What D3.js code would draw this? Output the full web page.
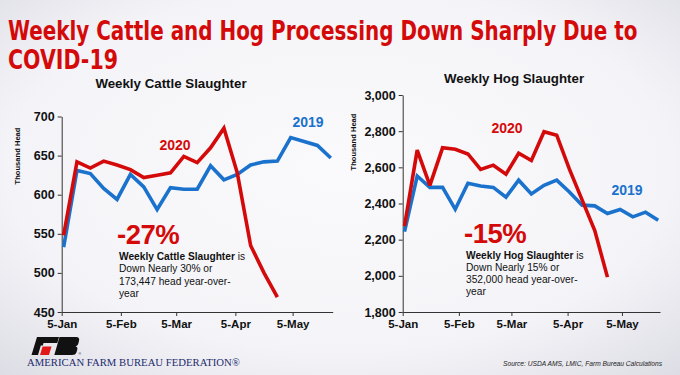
<!DOCTYPE html>
<html><head><meta charset="utf-8">
<script src="https://cdn.jsdelivr.net/npm/d3@7"></script>
<style>html,body{margin:0;padding:0;background:#f3f3f7;} svg{display:block;}</style>
</head><body>
<svg id="c" width="680" height="375"></svg>
<script>
// ---- data ----
const weeks = ["2020-01-06","2020-01-13","2020-01-20","2020-01-27","2020-02-03","2020-02-10","2020-02-17",
  "2020-02-24","2020-03-02","2020-03-09","2020-03-16","2020-03-23","2020-03-30","2020-04-06","2020-04-13",
  "2020-04-20","2020-04-27","2020-05-04","2020-05-11","2020-05-18","2020-05-25"];
const cattle2020 = [548, 642, 634, 643, 638, 632, 622, 625, 628, 649, 641, 660, 685, 628, 535, 500, 469];
const cattle2019 = [533, 631, 627, 608, 594, 626, 610, 581, 609, 607, 607, 637, 619, 626, 638, 642, 643, 673, 668, 663, 647];
const hog2020 = [2275, 2695, 2500, 2708, 2700, 2674, 2588, 2612, 2562, 2678, 2638, 2797, 2778, 2590, 2420, 2250, 1993];
const hog2019 = [2245, 2552, 2489, 2489, 2368, 2512, 2497, 2489, 2435, 2529, 2453, 2501, 2529, 2464, 2391, 2387, 2345, 2367, 2326, 2352, 2307];
const xTickDates = ["2020-01-05","2020-02-05","2020-03-05","2020-04-05","2020-05-05"];
const xTickLabels = ["5-Jan","5-Feb","5-Mar","5-Apr","5-May"];
const cattleTicks = [450, 500, 550, 600, 650, 700];
const hogTicks = [1800, 2000, 2200, 2400, 2600, 2800, 3000];
const xDomain = ["2020-01-05","2020-05-26"];

const RED = "#d40a0a", BLUE = "#1a72cc";
const parse = d3.utcParse("%Y-%m-%d");
const svg = d3.select("#c");
const FONT = "'Liberation Sans', Arial, Helvetica, sans-serif";

// background
const defs = svg.append("defs");
const g = defs.append("radialGradient").attr("id","bg").attr("cx","50%").attr("cy","45%").attr("r","75%");
g.append("stop").attr("offset","0%").attr("stop-color","#fafafc");
g.append("stop").attr("offset","65%").attr("stop-color","#f4f4f8");
g.append("stop").attr("offset","100%").attr("stop-color","#dcdce4");
svg.append("rect").attr("width",680).attr("height",375).attr("fill","url(#bg)");

// title (scaled horizontally to fit the reference width)
const tfont = "'Liberation Sans Narrow','DejaVu Sans Condensed','Liberation Sans',Arial,sans-serif";
function fitText(txt, x, y, width){
  const t = svg.append("text").attr("font-family",tfont).attr("font-weight","bold")
    .attr("font-size",24.5).attr("fill",RED).text(txt);
  const w = t.node().getComputedTextLength();
  t.attr("transform",`translate(${x},${y}) scale(${width / w},1.06)`);
}
fitText("Weekly Cattle and Hog Processing Down Sharply Due to", 8, 40, 630);
fitText("COVID-19", 8, 69, 110);

function panel(cfg){
  const x = d3.scaleUtc().domain(xDomain.map(parse)).range(cfg.xr);
  const y = d3.scaleLinear().domain(cfg.yd).range(cfg.yr);
  const G = svg.append("g");
  // y axis
  const ya = G.append("g").attr("transform",`translate(${cfg.xr[0]},0)`)
    .call(d3.axisLeft(y).tickValues(cfg.ticks).tickSize(4).tickSizeOuter(0).tickPadding(3).tickFormat(cfg.fmt));
  ya.selectAll("text").attr("font-family",FONT).attr("font-weight","bold").attr("font-size",12.5).attr("fill","#111");
  ya.selectAll("line,path").attr("stroke","#333");
  // x axis
  const xa = G.append("g").attr("transform",`translate(0,${cfg.yr[0]})`)
    .call(d3.axisBottom(x).tickValues(xTickDates.map(parse)).tickSize(4).tickSizeOuter(0).tickPadding(4)
      .tickFormat((d,i)=>xTickLabels[i]));
  xa.selectAll("text").attr("font-family",FONT).attr("font-weight","bold").attr("font-size",11.5).attr("fill","#111");
  xa.selectAll("line,path").attr("stroke","#333");
  // lines
  const line = d3.line().x((d,i)=>x(parse(weeks[i]))).y(d=>y(d));
  G.append("path").datum(cfg.s19).attr("d",line).attr("fill","none").attr("stroke",BLUE)
    .attr("stroke-width",3.6).attr("stroke-linejoin","miter").attr("stroke-miterlimit",3);
  G.append("path").datum(cfg.s20).attr("d",line).attr("fill","none").attr("stroke",RED)
    .attr("stroke-width",3.6).attr("stroke-linejoin","miter").attr("stroke-miterlimit",3);
  // subtitle
  G.append("text").attr("x",cfg.sub[0]).attr("y",cfg.sub[1]).attr("text-anchor","middle")
    .attr("font-family",FONT).attr("font-weight","bold").attr("font-size",13.3).attr("fill","#111").text(cfg.title);
  // axis title
  G.append("text").attr("transform",`translate(${cfg.at[0]},${cfg.at[1]}) rotate(-90)`).attr("text-anchor","middle")
    .attr("font-family",FONT).attr("font-weight","bold").attr("font-size",7.6).attr("fill","#111").text("Thousand Head");
  // series labels
  G.append("text").attr("x",cfg.l20[0]).attr("y",cfg.l20[1]).attr("text-anchor","middle").attr("font-family",FONT)
    .attr("font-weight","bold").attr("font-size",14).attr("fill",RED).text("2020");
  G.append("text").attr("x",cfg.l19[0]).attr("y",cfg.l19[1]).attr("text-anchor","middle").attr("font-family",FONT)
    .attr("font-weight","bold").attr("font-size",14).attr("fill",BLUE).text("2019");
  // big pct
  G.append("text").attr("x",cfg.pct[0]).attr("y",cfg.pct[1]).attr("font-family",FONT).attr("font-weight","bold")
    .attr("font-size",27.5).attr("fill",RED).attr("letter-spacing",-0.5).text(cfg.pctText);
  // description
  const d = G.append("text").attr("font-family",FONT).attr("font-size",10.2).attr("fill","#111");
  cfg.desc.forEach((ln,i)=>{
    const t = d.append("tspan").attr("x",cfg.dx).attr("y",cfg.dy + i*12.3);
    if(i===0){ t.append("tspan").attr("font-weight","bold").text(ln[0]); t.append("tspan").text(ln[1]); }
    else t.text(ln);
  });
}

panel({xr:[61.7,332.7], yd:[450,700], yr:[312,116.5], ticks:cattleTicks, fmt:d3.format("d"),
  s20:cattle2020, s19:cattle2019, title:"Weekly Cattle Slaughter", sub:[171,88], at:[20,156],
  l20:[175,150], l19:[308,127], pct:[117,244], pctText:"-27%",
  desc:[["Weekly Cattle Slaughter"," is"],"Down Nearly 30% or","173,447 head year-over-","year"], dx:119, dy:260});
panel({xr:[402.7,660], yd:[1800,3000], yr:[312,95], ticks:hogTicks, fmt:d3.format(","),
  s20:hog2020, s19:hog2019, title:"Weekly Hog Slaughter", sub:[514,83], at:[356,142],
  l20:[507,133], l19:[627,195], pct:[464,242.5], pctText:"-15%",
  desc:[["Weekly Hog Slaughter"," is"],"Down Nearly 15% or","352,000 head year-over-","year"], dx:466, dy:258.5});

// logo
const L = svg.append("g");
L.append("path").attr("d","M37,337 L59,337 L57.3,343 L43.5,343 L42.8,345.5 L40.8,345.5 L38,355 L31.5,355 Z").attr("fill","#111");
L.append("path").attr("d","M42.6,346.5 L51.5,346.5 L49,355 L40,355 Z").attr("fill","#e01818");
L.append("path").attr("d","M59.5,337 L76,337 Q80,337 79,341 L78.2,344 Q77.6,346 75.5,346.3 Q78,347 77.2,350 L76.4,352.5 Q75.6,355 72,355 L54.3,355 Z").attr("fill","#111");
L.append("text").attr("x",78.5).attr("y",355).attr("font-family",FONT).attr("font-size",3.5).attr("fill","#111").text("®");
L.append("text").attr("x",27).attr("y",366).attr("font-family","'Liberation Serif','Times New Roman',serif")
  .attr("font-size",9.6).attr("fill","#1d2b6e").attr("textLength",213).attr("lengthAdjust","spacingAndGlyphs")
  .text("AMERICAN FARM BUREAU FEDERATION®");
svg.append("text").attr("x",662).attr("y",366).attr("text-anchor","end").attr("font-family",FONT)
  .attr("font-style","italic").attr("font-size",7).attr("fill","#222").attr("textLength",159).attr("lengthAdjust","spacingAndGlyphs")
  .text("Source: USDA AMS, LMIC, Farm Bureau Calculations");
</script>
</body></html>
